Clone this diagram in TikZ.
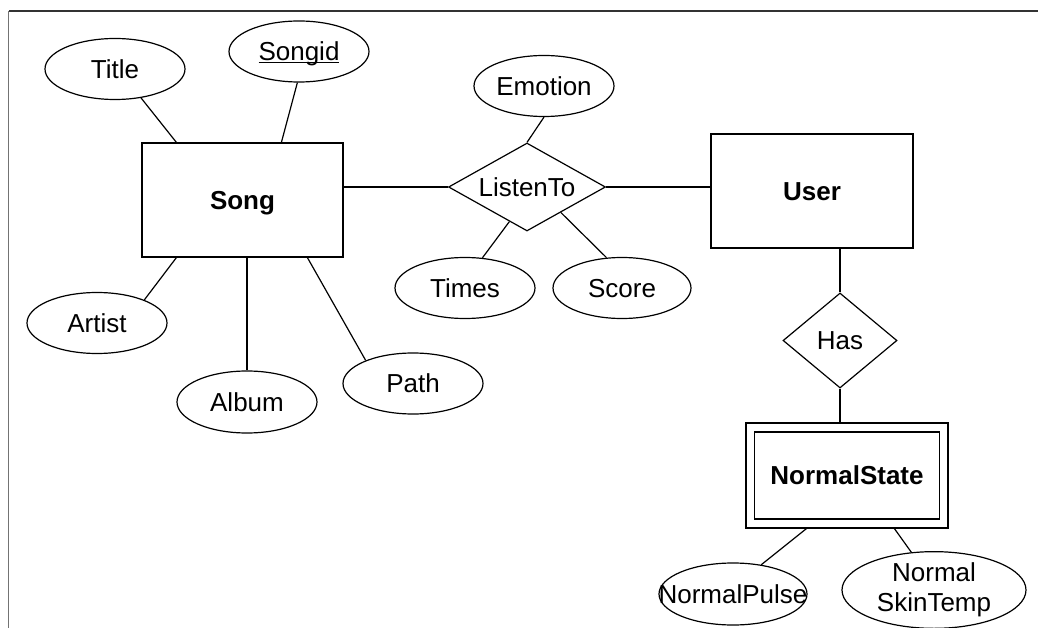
\documentclass[tikz,border=0pt]{standalone}
\usepackage{fontspec}
\setmainfont{Liberation Sans}
\usetikzlibrary{shapes.geometric}
\newcommand{\keyattr}[1]{\setbox0=\hbox{#1}\rlap{\rule[-2pt]{\wd0}{1.2pt}}\box0}
\begin{document}
\begin{tikzpicture}[x=1pt,y=-1pt,line width=1.2pt,
	every node/.style={draw,inner sep=0pt,font=\fontsize{26}{30}\selectfont},
	capline/.style={text height=18.5pt,text depth=0pt},
	entity/.style={capline,rectangle,minimum width=201pt,minimum height=114pt,
		font=\fontsize{26}{30}\selectfont\bfseries},
	relation/.style={capline,diamond,aspect=1.8},
	oval/.style={ellipse,minimum width=140pt,minimum height=61pt},
	attr/.style={oval,capline}]
\useasboundingbox (0,0) rectangle (1038,628);
\draw[black!80] (1038,11) -- (8.5,11);
\draw[black!55] (8.5,11) -- (8.5,628);

\node[entity] (song) at (242.5,200) {Song};
\node[attr] (title) at (115,69) {Title};
\node[attr] (songid) at (299,51.5) {\keyattr{Songid}};
\node[attr] (artist) at (97,323) {Artist};
\node[attr,minimum height=62pt] (album) at (247,402) {Album};
\node[attr] (path) at (413,383.5) {Path};
\node[relation,minimum width=157pt,minimum height=88pt] (listen) at (527,187) {ListenTo};
\node[attr] (emotion) at (544,86) {Emotion};
\node[attr] (times) at (465,288) {Times};
\node[attr,minimum width=138pt] (score) at (622,288) {Score};
\node[entity,minimum width=202pt] (user) at (812,191) {User};
\node[relation,aspect=1.2,minimum width=114pt,minimum height=95pt] (has) at (840,340.5) {Has};
\node[entity,minimum width=202pt,minimum height=105pt] (state) at (847,475.5) {};
\node[entity,minimum width=185pt,minimum height=87pt] (statein) at (state) {NormalState};
\node[attr,minimum width=148pt,minimum height=62pt] (pulse) at (733,594) {\makebox[0pt]{NormalPulse}};
\node[oval,minimum width=184pt,minimum height=72pt,align=center] (skin) at (934,590) {Normal\\SkinTemp};

\draw (title.-48) -- ([xshift=35pt]song.north west);
\draw (songid.-93) -- ([xshift=140pt]song.north west);
\draw (artist.26) -- ([xshift=35pt]song.south west);
\draw (album.north |- song.south) -- (album.north);
\draw (path.154) -- ([xshift=166pt]song.south west);
\draw (listen.west -| song.east) -- (listen.west);
\draw (listen.east) -- (listen.east -| user.west);
\draw (emotion.south) -- (listen.north);
\draw (listen.-117) -- (times.60);
\draw (listen.-37) -- (score.117);
\draw (has.north |- user.south) -- (has.north);
\draw (has.south) -- (has.south |- state.north);
\draw ([xshift=61pt]state.south west) -- (pulse.46);
\draw ([xshift=149pt]state.south west) -- (skin.121);
\end{tikzpicture}
\end{document}
